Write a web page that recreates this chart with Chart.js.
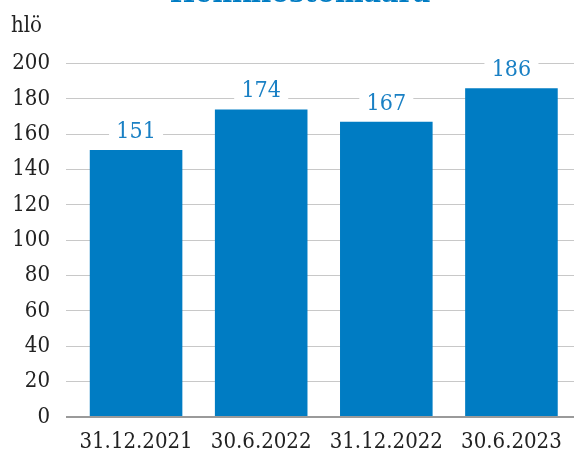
<!DOCTYPE html>
<html>
<head>
<meta charset="utf-8">
<script src="https://cdn.jsdelivr.net/npm/chart.js@4/dist/chart.umd.min.js"></script>
<style>
  body { margin: 0; background: #fff; }
</style>
</head>
<body>
<canvas id="chart" width="578" height="454"></canvas>
<script>
// data
const periods = ['31.12.2021', '30.6.2022', '31.12.2022', '30.6.2023'];
const headcount = [151, 174, 167, 186];
const chartTitle = 'Henkilöstömäärä';
const unitLabel = 'hlö';

const BLUE = '#007cc3';
const FONT = "'DejaVu Serif Condensed', 'DejaVu Serif', serif";

// title (cut off at the top edge) and unit text
const headerText = {
    id: 'headerText',
    afterDraw(chart) {
        const ctx = chart.ctx;
        ctx.save();
        ctx.textBaseline = 'alphabetic';
        ctx.textAlign = 'center';
        ctx.fillStyle = BLUE;
        ctx.font = 'bold 30px ' + FONT;
        ctx.fillText(chartTitle, 300, 2);
        ctx.textAlign = 'left';
        ctx.fillStyle = '#222';
        ctx.font = '22px ' + FONT;
        ctx.fillText(unitLabel, 11, 32);
        ctx.restore();
    }
};

// values above bars, white box cuts the grid line
const valueLabels = {
    id: 'valueLabels',
    afterDatasetsDraw(chart) {
        const ctx = chart.ctx;
        const meta = chart.getDatasetMeta(0);
        ctx.save();
        ctx.font = '23px ' + FONT;
        ctx.textAlign = 'center';
        ctx.textBaseline = 'middle';
        meta.data.forEach((bar, i) => {
            const y = bar.y - 18;
            ctx.fillStyle = '#fff';
            ctx.fillRect(bar.x - 27, y - 13, 54, 26);
            ctx.fillStyle = '#1a80c4';
            ctx.fillText(headcount[i], bar.x, y);
        });
        ctx.restore();
    }
};

new Chart(document.getElementById('chart'), {
    type: 'bar',
    data: {
        labels: periods,
        datasets: [{
            data: headcount,
            backgroundColor: BLUE,
            borderWidth: 0,
            barPercentage: 0.74,
            categoryPercentage: 1
        }]
    },
    options: {
        responsive: false,
        animation: false,
        layout: { padding: { left: 0, right: 4, top: 63.5, bottom: 0 } },
        plugins: {
            legend: { display: false },
            tooltip: { enabled: false }
        },
        scales: {
            x: {
                afterFit(scale) { scale.height = 37; },
                grid: { display: false },
                border: { display: false },
                ticks: { color: '#222', font: { family: FONT, size: 22 }, padding: 4, maxRotation: 0 }
            },
            y: {
                min: 0,
                max: 200,
                afterFit(scale) { scale.width = 73.5; },
                border: { display: false },
                grid: {
                    color: c => c.tick.value === 0 ? '#9a9a9a' : '#c8c8c8',
                    lineWidth: c => c.tick.value === 0 ? 2 : 1,
                    tickLength: 7.5
                },
                ticks: { stepSize: 20, color: '#222', font: { family: FONT, size: 22 }, padding: 16 }
            }
        }
    },
    plugins: [valueLabels, headerText]
});
</script>
</body>
</html>
